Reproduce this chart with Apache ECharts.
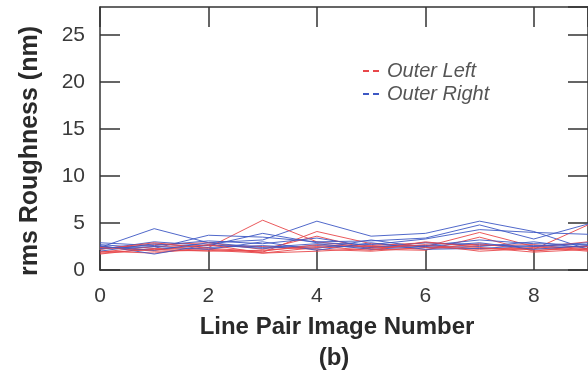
<!DOCTYPE html>
<html>
<head>
<meta charset="utf-8">
<script src="https://cdn.jsdelivr.net/npm/echarts@6/dist/echarts.min.js"></script>
<style>html,body{margin:0;padding:0;background:#fff}#c{width:588px;height:378px}</style>
</head>
<body>
<div id="c"></div>
<script>
const xValues = [0, 1, 2, 3, 4, 5, 6, 7, 8, 9];
const xTickLabels = ['0', '2', '4', '6', '8'];
const yTickLabels = ['0', '5', '10', '15', '20', '25'];
const legendNames = ['Outer Left', 'Outer Right'];

// Outer Left (red) runs
const left1 = [2.0, 1.8, 2.4, 5.3, 3.0, 2.4, 2.6, 2.3, 2.2, 4.8];
const left2 = [1.7, 2.3, 2.2, 1.9, 4.1, 2.8, 2.5, 4.0, 2.5, 2.0];
const left3 = [2.3, 2.7, 2.9, 2.2, 3.6, 2.2, 2.1, 3.5, 2.0, 2.6];
const left4 = [2.5, 2.0, 2.1, 1.8, 2.4, 2.6, 2.9, 2.6, 2.7, 2.1];
const left5 = [1.9, 2.5, 2.6, 2.5, 2.2, 2.0, 2.4, 2.2, 2.4, 3.0];
const left6 = [2.2, 2.9, 2.3, 2.0, 2.7, 2.5, 2.2, 2.8, 2.1, 2.3];
const left7 = [2.4, 2.1, 2.7, 1.8, 2.0, 2.3, 2.7, 2.0, 2.3, 2.5];
const left8 = [1.8, 2.2, 2.0, 2.1, 2.5, 2.1, 3.0, 2.4, 1.9, 2.2];

// Outer Right (blue) runs
const right1 = [2.4, 4.4, 2.9, 3.2, 5.2, 3.6, 3.9, 5.2, 4.1, 2.2];
const right2 = [2.7, 2.3, 3.7, 3.5, 3.0, 3.1, 3.4, 4.8, 3.3, 4.9];
const right3 = [2.2, 3.0, 2.6, 3.9, 2.9, 2.7, 3.3, 4.3, 4.0, 3.8];
const right4 = [2.9, 2.6, 3.1, 2.8, 3.4, 2.5, 2.6, 3.2, 2.8, 2.7];
const right5 = [2.0, 2.8, 2.4, 2.6, 2.3, 3.2, 2.4, 2.5, 3.0, 2.3];
const right6 = [2.6, 1.7, 2.7, 2.3, 2.6, 2.4, 2.9, 2.7, 2.5, 2.9];
const right7 = [2.3, 2.5, 2.2, 3.0, 2.1, 2.9, 2.2, 2.3, 2.6, 2.5];
const right8 = [2.5, 2.1, 2.9, 2.4, 2.8, 2.2, 2.5, 2.9, 2.2, 2.6];

const leftRuns = [left1, left2, left3, left4, left5, left6, left7, left8];
const rightRuns = [right1, right2, right3, right4, right5, right6, right7, right8];

const RED = '#e8474a';
const BLUE = '#3d58c4';
const AXIS = '#333';
const FONT = '"Liberation Sans", Arial, sans-serif';

function mkSeries(runs, name, color) {
  return runs.map(r => ({
    name: name,
    type: 'line',
    data: xValues.map((x, i) => [x, r[i]]),
    showSymbol: false,
    symbol: 'none',
    lineStyle: { color: color, width: 1, opacity: 0.9 },
    itemStyle: { color: color },
    silent: true,
    animation: false
  }));
}

const series = [];
const L = mkSeries(leftRuns, legendNames[0], RED);
const R = mkSeries(rightRuns, legendNames[1], BLUE);
for (let i = 0; i < L.length; i++) { series.push(R[i]); series.push(L[i]); }

const axisLineStyle = { onZero: false, lineStyle: { color: AXIS, width: 1.5 } };
const tickStyle = { inside: true, length: 20, lineStyle: { color: AXIS, width: 1.5 } };
const labelStyle = { color: '#3a3a3a', fontSize: 21, fontFamily: FONT };

const chart = echarts.init(document.getElementById('c'), null, { renderer: 'canvas' });
chart.setOption({
  animation: false,
  backgroundColor: '#fff',
  grid: { left: 100, top: 7, right: -5, bottom: 108, containLabel: false },
  legend: {
    data: legendNames,
    orient: 'vertical',
    left: 358,
    top: 56,
    itemGap: 3,
    itemWidth: 16,
    itemHeight: 2,
    icon: 'path://M0,0H6V2H0Z M10,0H16V2H10Z',
    textStyle: { color: '#555', fontSize: 20, fontStyle: 'italic', fontFamily: FONT, padding: [0, 0, 0, 3] }
  },
  xAxis: [
    {
      type: 'value', position: 'bottom', min: 0, max: 9, interval: 2,
      axisLine: axisLineStyle, axisTick: tickStyle,
      axisLabel: Object.assign({ margin: 16, showMaxLabel: false,
        formatter: v => (xTickLabels.indexOf(String(v)) >= 0 ? String(v) : '') }, labelStyle),
      splitLine: { show: false }
    },
    {
      type: 'value', position: 'top', min: 0, max: 9, interval: 2,
      axisLine: axisLineStyle, axisTick: tickStyle,
      axisLabel: { show: false }, splitLine: { show: false }
    }
  ],
  yAxis: [
    {
      type: 'value', position: 'left', min: 0, max: 28, interval: 5,
      axisLine: axisLineStyle, axisTick: tickStyle,
      axisLabel: Object.assign({ margin: 15, showMaxLabel: false,
        formatter: v => (yTickLabels.indexOf(String(v)) >= 0 ? String(v) : '') }, labelStyle),
      splitLine: { show: false }
    },
    {
      type: 'value', position: 'right', min: 0, max: 28, interval: 5,
      axisLine: axisLineStyle, axisTick: tickStyle,
      axisLabel: { show: false }, splitLine: { show: false }
    }
  ],
  graphic: [
    { type: 'text', x: 337, y: 327, style: { text: 'Line Pair Image Number', fill: '#2a2a2a',
      font: 'bold 24px ' + FONT, textAlign: 'center', textVerticalAlign: 'middle' } },
    { type: 'text', x: 334, y: 358, style: { text: '(b)', fill: '#2a2a2a',
      font: 'bold 24px ' + FONT, textAlign: 'center', textVerticalAlign: 'middle' } },
    { type: 'text', x: 30, y: 151, rotation: Math.PI / 2, style: { text: 'rms Roughness (nm)', fill: '#2a2a2a',
      font: 'bold 25px ' + FONT, textAlign: 'center', textVerticalAlign: 'middle' } }
  ],
  series: series
});
</script>
</body>
</html>
